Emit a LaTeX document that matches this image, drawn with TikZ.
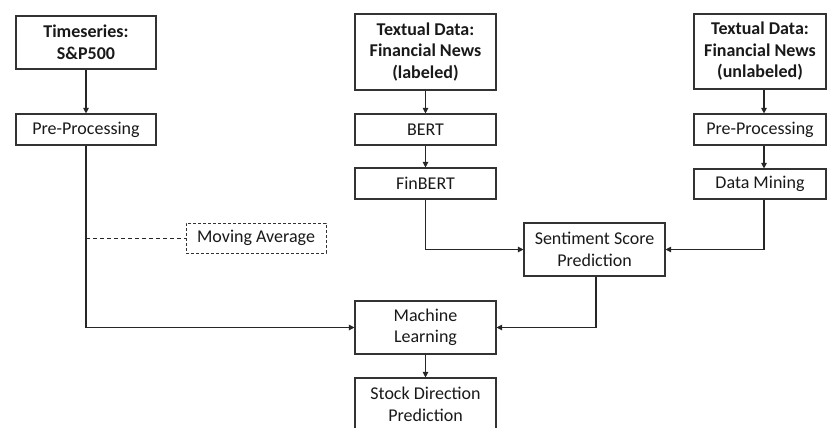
\documentclass[tikz,border=0pt]{standalone}
\usepackage{fontspec}
\setmainfont{Carlito}
\usetikzlibrary{arrows.meta}
\begin{document}
\begin{tikzpicture}[x=1pt,y=-1pt,
  box/.style={draw=black!80,line width=1.1pt,inner sep=0pt,align=center,
    font=\fontsize{18}{21.5}\selectfont,text=black!90},
  hdr/.style={box,font=\fontsize{18}{21.5}\selectfont\bfseries},
  conn/.style={draw=black!85,line width=1.1pt},
  arr/.style={conn,-{Triangle[length=5.5pt,width=5.5pt]}}]
\useasboundingbox (0,0) rectangle (827,428);
\node[hdr,minimum width=140pt,minimum height=53pt] (ts) at (86,42.5) {Timeseries:\\S\&P500};
\node[box,minimum width=140pt,minimum height=31pt] (prl) at (86,129.5) {Pre-Processing};
\node[hdr,minimum width=141pt,minimum height=76pt] (lab) at (425.5,52) {Textual Data:\\Financial News\\(labeled)};
\node[box,minimum width=141pt,minimum height=31pt] (bert) at (425.5,129.5) {BERT};
\node[box,minimum width=141pt,minimum height=31pt] (fin) at (425.5,183.5) {FinBERT};
\node[hdr,minimum width=132pt,minimum height=75pt] (ul) at (760,51.5) {Textual Data:\\Financial News\\(unlabeled)};
\node[box,minimum width=132pt,minimum height=31pt] (prr) at (760,129.5) {Pre-Processing};
\node[box,minimum width=132pt,minimum height=30pt] (dm) at (760,184) {Data Mining};
\node[box,dashed,dash pattern=on 3pt off 2pt,line width=0.9pt,minimum width=140pt,minimum height=30pt] (ma) at (256,238) {Moving Average};
\node[box,minimum width=141pt,minimum height=53pt] (sent) at (594.5,249.5) {Sentiment Score\\Prediction};
\node[box,minimum width=141pt,minimum height=53pt] (ml) at (425.5,327.5) {Machine\\Learning};
\node[box,minimum width=141pt,minimum height=53pt] (sd) at (425.5,404.5) {Stock Direction\\Prediction};
\draw[arr] (ts) -- (prl);
\draw[arr] (prl.south) |- (ml.west);
\draw[conn,dashed,dash pattern=on 4pt off 3pt,line width=0.9pt] (prl.south |- ma.west) -- (ma.west);
\draw[arr] (lab) -- (bert);
\draw[arr] (bert) -- (fin);
\draw[arr] (fin.south) |- (sent.west);
\draw[arr] ([xshift=4pt]ul.south) -- ([xshift=4pt]prr.north);
\draw[arr] ([xshift=4pt]prr.south) -- ([xshift=4pt]dm.north);
\draw[arr] ([xshift=4pt]dm.south) |- (sent.east);
\draw[arr] ([xshift=1.5pt]sent.south) |- (ml.east);
\draw[arr] (ml) -- (sd);
\end{tikzpicture}
\end{document}
